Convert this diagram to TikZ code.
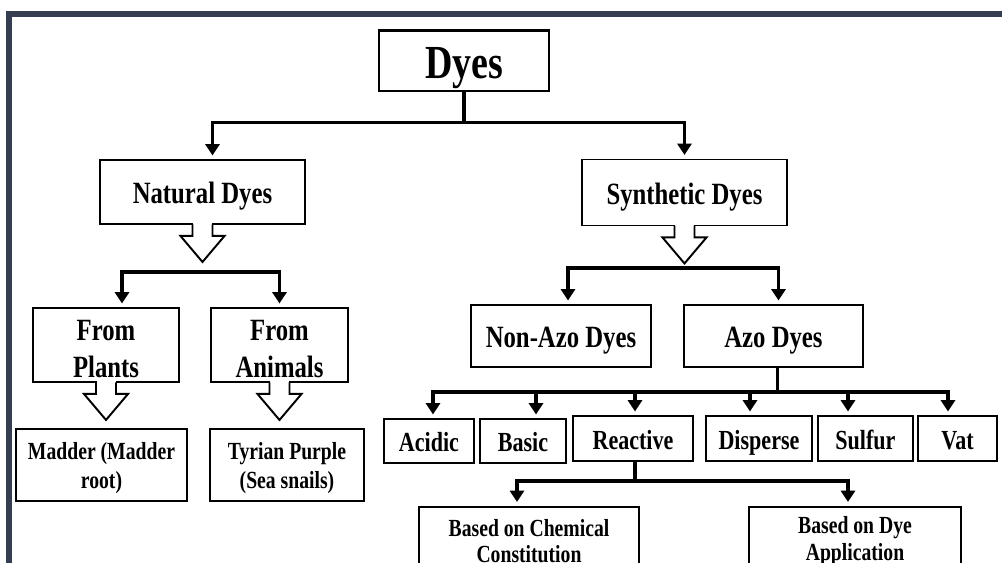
\documentclass[tikz,border=0pt]{standalone}
\usepackage{fontspec}
\setmainfont{Liberation Serif}[FakeStretch=0.80]
\usetikzlibrary{arrows.meta, calc, positioning}
\definecolor{framegray}{HTML}{343E50}
\tikzset{
    box/.style={draw, line width=1.1pt, fill=white, align=center, inner sep=1pt,
        font=\bfseries\fontsize{17.6}{21}\selectfont}, % every box of the tree
    oneline/.style={text height=17pt}, % single line boxes sit a bit low
    rowbox/.style={box, font=\bfseries\fontsize{15.7}{18}\selectfont,
        text height=16pt, text depth=3.5pt}, % the azo classes
    smallbox/.style={box, font=\bfseries\fontsize{14}{16.5}\selectfont}, % the leaves
    sz/.style 2 args={minimum width=#1*0.02cm, minimum height=#2*0.02cm}, % size in layout pixels
    link/.style={line width=2pt}, % plain stem
    arr/.style={link, -{Triangle[width=8pt,length=6.5pt]}, shorten >=2pt}, % stem with a head
    hollow/.pic={ % open block arrow under a box
        \fill[white] (-9.5,-1.5) rectangle (9.5,1.5);
        \draw[line width=1.1pt, line join=miter] (-10,-0.5) -- (-10,11) -- (-22,11) -- (0,37) -- (22,11) -- (10,11) -- (10,-0.5);
    },
}
\begin{document}
\begin{tikzpicture}[x=0.02cm, y=-0.02cm]
    \useasboundingbox (0,0) rectangle (1002,563);
    \clip (0,0) rectangle (1002,563);
    \draw[framegray, line width=0.12cm] (9,600) -- (9,14) -- (1050,14);

    % root and families
    \node[box, line width=1.7pt, font=\bfseries\fontsize{27}{30}\selectfont, text height=26pt, sz={170}{60}] (dyes) at (464,61) {Dyes};
    \node[box, oneline, sz={205}{64}] (natural) at (202.5,192) {Natural Dyes};
    \node[box, oneline, sz={205}{66}] (synthetic) at (684.5,192.5) {Synthetic Dyes};

    % natural side
    \node[box, text height=37pt, sz={146}{74}] (plants) at (106,345) {From\\Plants};
    \node[box, text height=37pt, sz={137}{74}] (animals) at (279.5,345) {From\\Animals};
    \node[smallbox, text height=29.5pt, sz={171}{72}] (madder) at (101.5,465) {Madder (Madder\\root)};
    \node[smallbox, text height=29.5pt, sz={154}{72}] (tyrian) at (287,465) {Tyrian Purple\\(Sea snails)};

    % synthetic side
    \node[box, oneline, sz={180}{62}] (nonazo) at (561,336) {Non-Azo Dyes};
    \node[box, oneline, sz={179}{62}] (azo) at (773.5,336) {Azo Dyes};
    \node[rowbox, sz={90}{44}] (acidic) at (429,441) {Acidic};
    \node[rowbox, sz={86}{44}] (basic) at (523,441) {Basic};
    \node[rowbox, sz={120}{45}] (reactive) at (633,438.5) {Reactive};
    \node[rowbox, sz={106}{45}] (disperse) at (759,438.5) {Disperse};
    \node[rowbox, sz={95}{45}] (sulfur) at (865.5,438.5) {Sulfur};
    \node[rowbox, sz={79}{45}] (vat) at (957.5,438.5) {Vat};
    \node[smallbox, font=\bfseries\fontsize{14}{15}\selectfont, line width=1.7pt, sz={220}{68}] (chem) at (529,541) {Based on Chemical\\Constitution};
    \node[smallbox, font=\bfseries\fontsize{14}{15}\selectfont, line width=1.7pt, sz={212}{68}] (dyeapp) at (855,541) {Based on Dye\\Application};

    % connectors
    \coordinate (dyesbar) at ($(dyes.south)+(0,30)$);
    \draw[link] (dyes.south) -- (dyesbar);
    \draw[arr] (dyesbar) -| ($(natural.north)+(10,0)$);
    \draw[arr] (dyesbar) -| (synthetic.north);

    \pic at (natural.south) {hollow};
    \pic at (synthetic.south) {hollow};
    \pic at (plants.south) {hollow};
    \pic at (animals.south) {hollow};

    \coordinate (natbar) at ($(natural.south)+(0,47)$);
    \draw[arr] (natbar) -| ($(plants.north)+(16,0)$);
    \draw[arr] (natbar) -| (animals.north);

    \coordinate (synbar) at ($(synthetic.south)+(0,41.5)$);
    \draw[arr] (synbar) -| ($(nonazo.north)+(7,0)$);
    \draw[arr] (synbar) -| ($(azo.north)+(5,0)$);

    \coordinate (azobar) at ($(azo.south)+(4,24)$);
    \draw[link] ($(azo.south)+(4,0)$) -- (azobar);
    \foreach \n/\dx in {acidic/4, basic/13, reactive/2, disperse/-9, sulfur/-17.5, vat/-9.5}
        \draw[arr] (azobar) -| ($(\n.north)+(\dx,0)$);

    \coordinate (reactbar) at ($(reactive.south)+(2,19)$);
    \draw[link] ($(reactive.south)+(2,0)$) -- (reactbar);
    \draw[arr] (reactbar) -| ($(chem.north)+(-12,0)$);
    \draw[arr] (reactbar) -| ($(dyeapp.north)+(-7,0)$);
\end{tikzpicture}
\end{document}
